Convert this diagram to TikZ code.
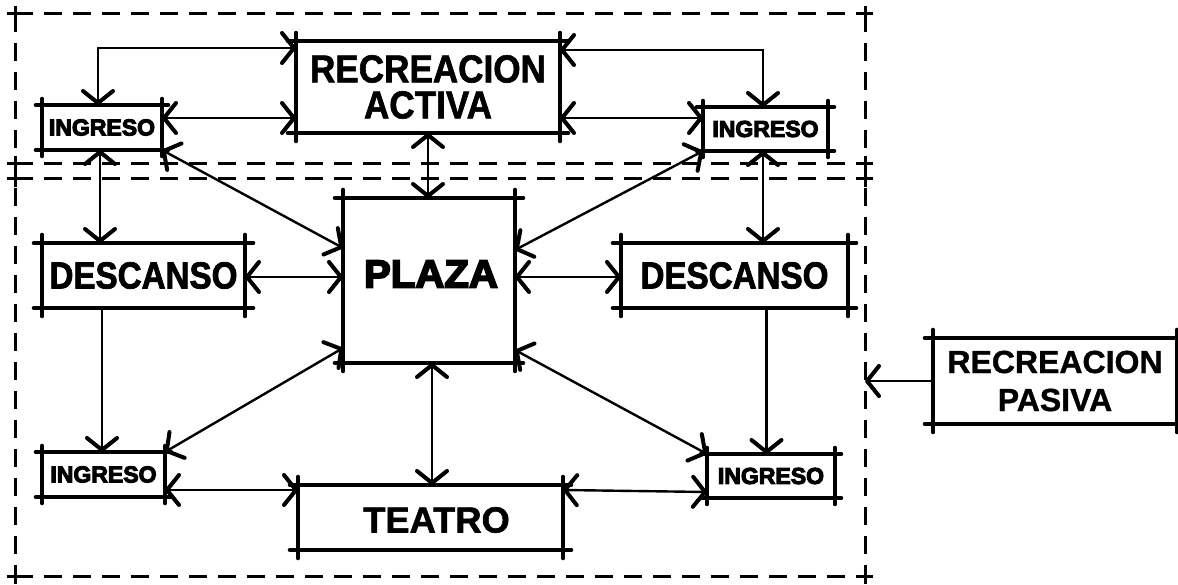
\documentclass[tikz,border=0pt]{standalone}
\usepackage{fontspec}
\usetikzlibrary{arrows.meta,calc}
\newfontfamily\fRA[FakeStretch=0.90,FakeBold=1.5]{Liberation Sans}
\newfontfamily\fDes[FakeStretch=0.88,FakeBold=2]{Liberation Sans}
\newfontfamily\fPl[FakeStretch=1.03,FakeBold=4.5]{Liberation Sans}
\newfontfamily\fTe[FakeBold=1.5]{Liberation Sans}
\newfontfamily\fRP[FakeBold=1]{Liberation Sans}
\newfontfamily\fIng[FakeBold=4.5]{Liberation Sans}
\newcommand{\skb}[2]{%
 \draw[boxline] ($(#1.north west)+(-#2,0)$) -- ($(#1.north east)+(#2,0)$);
 \draw[boxline] ($(#1.south west)+(-#2,0)$) -- ($(#1.south east)+(#2,0)$);
 \draw[boxline] ($(#1.north west)+(0,-#2)$) -- ($(#1.south west)+(0,#2)$);
 \draw[boxline] ($(#1.north east)+(0,-#2)$) -- ($(#1.south east)+(0,#2)$);}
\tikzset{
 bx/.style={inner sep=0pt, outer sep=0pt, align=center},
 boxline/.style={line width=4.6pt, line cap=round},
 con/.style={line width=2.4pt},
 framel/.style={line width=3pt, dash pattern=on 18pt off 11pt},
 fcross/.style={line width=3pt},
 ingf/.style={font={\fIng\bfseries\fontsize{23}{24}\selectfont}},
 desf/.style={font={\fDes\bfseries\fontsize{37.7}{40}\selectfont}},
}
\begin{document}
\begin{tikzpicture}[x=1pt,y=-1pt,>={Straight Barb[length=12pt,width=30pt,line width=4pt 0 0,round]}]
\useasboundingbox (0,0) rectangle (1178,585);
\fill[white] (0,0) rectangle (1178,585);
% frame
\draw[framel] (15,14) -- (865,14);
\draw[framel] (15,164) -- (865,164);
\draw[framel] (15,179) -- (865,179);
\draw[framel] (15,576) -- (865,576);
\draw[framel] (15,14) -- (15,576);
\draw[framel] (865,14) -- (865,576);
\foreach \x in {15,865}{\foreach \y in {14,164,179,576}{
 \draw[fcross] (\x-8,\y) -- (\x+8,\y) (\x,\y-8) -- (\x,\y+8);}}
\coordinate (fr) at (865,381);
% nodes
\node[bx,ingf,minimum width=120pt,minimum height=45pt] (tli) at (102,127.5) {INGRESO};
\node[bx,ingf,minimum width=125pt,minimum height=44pt] (tri) at (765.5,129) {INGRESO};
\node[bx,ingf,minimum width=123pt,minimum height=45pt] (bli) at (103.5,474.5) {INGRESO};
\node[bx,ingf,minimum width=128pt,minimum height=44pt] (bri) at (771,476) {INGRESO};
\node[bx,minimum width=264pt,minimum height=92pt,font={\fRA\bfseries\fontsize{39}{36}\selectfont}] (ra) at (428,87) {RECREACION\\ACTIVA};
\node[bx,minimum width=172pt,minimum height=165pt] (plaza) at (429,280.5) {};
\node[bx,font={\fPl\bfseries\fontsize{39}{40}\selectfont}] (plazat) at ($(plaza.center)+(2,-6.5)$) {PLAZA};
\node[bx,desf,minimum width=203pt,minimum height=65pt] (dl) at (143.5,275.5) {DESCANSO};
\node[bx,desf,minimum width=227pt,minimum height=65pt] (dr) at (734.5,275.5) {DESCANSO};
\node[bx,minimum width=265pt,minimum height=65pt] (teatro) at (430.5,517.5) {};
\node[bx,font={\fTe\bfseries\fontsize{36.3}{38}\selectfont}] (teatrot) at ($(teatro.center)+(6,2.5)$) {TEATRO};
\node[bx,minimum width=244pt,minimum height=86pt,font={\fRP\bfseries\fontsize{32}{38}\selectfont}] (rp) at (1055,381) {RECREACION\\PASIVA};
% connectors
\coordinate (c1) at ($(tli.north)+(-4,0)$);
\draw[con,<->] (c1) |- ($(ra.north west)+(0,7)$);
\coordinate (c2) at ($(tli.east)+(0,-9.5)$);
\draw[con,<->] (c2) -- (c2 -| ra.west);
\draw[con,<->] ($(ra.north east)+(0,9)$) -| ($(tri.north)+(-2.5,0)$);
\coordinate (c4) at ($(tri.west)+(0,-11)$);
\draw[con,<->] (c4 -| ra.east) -- (c4);
\draw[con,<->] (ra.south) -- (ra.south |- plaza.north);
\coordinate (c6) at ($(tli.south)+(-2,0)$);
\draw[con,<->] (c6) -- (c6 |- dl.north);
\draw[con,<->] (tli.south east) -- ($(plaza.west)+(0,-32.5)$);
\draw[con,<->] (tri.south west) -- ($(plaza.east)+(0,-30.5)$);
\coordinate (c9) at ($(tri.south)+(-2.5,0)$);
\draw[con,<->] (c9) -- (c9 |- dr.north);
\coordinate (c10) at ($(dl.east)+(0,1.5)$);
\draw[con,<->] (c10) -- (c10 -| plaza.west);
\draw[con,<->] (c10 -| plaza.east) -- (c10 -| dr.west);
\coordinate (c12) at ($(dl.south)+(-41.5,0)$);
\draw[con,->] (c12) -- (c12 |- bli.north);
\coordinate (c13) at ($(dr.south)+(32,0)$);
\draw[con,->] (c13) -- (c13 |- bri.north);
\draw[con,<->] ($(plaza.west)+(0,67.5)$) -- (bli.north east);
\draw[con,<->] ($(plaza.east)+(0,69.5)$) -- (bri.north west);
\coordinate (c16) at ($(plaza.south)+(3,0)$);
\draw[con,<->] (c16) -- (c16 |- teatro.north);
\coordinate (c17) at ($(bli.east)+(0,15.5)$);
\draw[con,<->] (c17) -- (c17 -| teatro.west);
\draw[con,<->] ($(teatro.east)+(0,-27.5)$) -- ($(bri.west)+(0,16)$);
\draw[con,->] (rp.west) -- (rp.west -| fr);
% box outlines
\skb{tli}{6}
\skb{tri}{6}
\skb{bli}{6}
\skb{bri}{6}
\skb{ra}{8}
\skb{plaza}{8}
\skb{dl}{8}
\skb{dr}{8}
\skb{teatro}{8}
\skb{rp}{8}
\end{tikzpicture}
\end{document}
